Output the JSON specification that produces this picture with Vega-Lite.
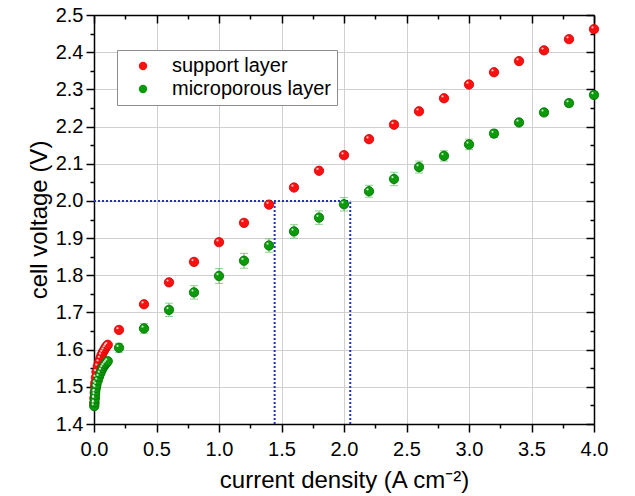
{
  "$schema": "https://vega.github.io/schema/vega-lite/v6.json",
  "width": 500,
  "height": 409,
  "autosize": {"type": "none"},
  "padding": {"left": 94, "top": 15, "right": 41, "bottom": 72},
  "background": "white",
  "config": {
    "font": "Liberation Sans",
    "view": {"stroke": null},
    "axis": {
      "domainColor": "black",
      "domainWidth": 1.5,
      "tickColor": "black",
      "tickWidth": 1.5,
      "labelColor": "black",
      "titleColor": "black",
      "labelFont": "Liberation Sans",
      "titleFont": "Liberation Sans",
      "labelFontSize": 20,
      "titleFontSize": 24,
      "titleFontWeight": "normal",
      "labelFlush": false,
      "labelOverlap": false,
      "gridColor": "#d0d0d0",
      "gridWidth": 1
    }
  },
  "datasets": {
    "cells": [
      {"layer": "support layer", "current": 0.002, "voltage": 1.455, "err": 0.003},
      {"layer": "support layer", "current": 0.004, "voltage": 1.47, "err": 0.003},
      {"layer": "support layer", "current": 0.006, "voltage": 1.485, "err": 0.003},
      {"layer": "support layer", "current": 0.008, "voltage": 1.5, "err": 0.003},
      {"layer": "support layer", "current": 0.01, "voltage": 1.51, "err": 0.003},
      {"layer": "support layer", "current": 0.015, "voltage": 1.525, "err": 0.003},
      {"layer": "support layer", "current": 0.02, "voltage": 1.54, "err": 0.003},
      {"layer": "support layer", "current": 0.03, "voltage": 1.555, "err": 0.003},
      {"layer": "support layer", "current": 0.04, "voltage": 1.566, "err": 0.003},
      {"layer": "support layer", "current": 0.05, "voltage": 1.576, "err": 0.003},
      {"layer": "support layer", "current": 0.06, "voltage": 1.585, "err": 0.003},
      {"layer": "support layer", "current": 0.07, "voltage": 1.592, "err": 0.003},
      {"layer": "support layer", "current": 0.08, "voltage": 1.598, "err": 0.003},
      {"layer": "support layer", "current": 0.09, "voltage": 1.604, "err": 0.003},
      {"layer": "support layer", "current": 0.1, "voltage": 1.609, "err": 0.003},
      {"layer": "support layer", "current": 0.11, "voltage": 1.613, "err": 0.003},
      {"layer": "support layer", "current": 0.2, "voltage": 1.653, "err": 0.004},
      {"layer": "support layer", "current": 0.4, "voltage": 1.722, "err": 0.004},
      {"layer": "support layer", "current": 0.6, "voltage": 1.781, "err": 0.004},
      {"layer": "support layer", "current": 0.8, "voltage": 1.836, "err": 0.004},
      {"layer": "support layer", "current": 1.0, "voltage": 1.889, "err": 0.004},
      {"layer": "support layer", "current": 1.2, "voltage": 1.941, "err": 0.004},
      {"layer": "support layer", "current": 1.4, "voltage": 1.99, "err": 0.004},
      {"layer": "support layer", "current": 1.6, "voltage": 2.036, "err": 0.004},
      {"layer": "support layer", "current": 1.8, "voltage": 2.081, "err": 0.004},
      {"layer": "support layer", "current": 2.0, "voltage": 2.123, "err": 0.004},
      {"layer": "support layer", "current": 2.2, "voltage": 2.166, "err": 0.004},
      {"layer": "support layer", "current": 2.4, "voltage": 2.205, "err": 0.004},
      {"layer": "support layer", "current": 2.6, "voltage": 2.241, "err": 0.004},
      {"layer": "support layer", "current": 2.8, "voltage": 2.276, "err": 0.004},
      {"layer": "support layer", "current": 3.0, "voltage": 2.313, "err": 0.004},
      {"layer": "support layer", "current": 3.2, "voltage": 2.346, "err": 0.004},
      {"layer": "support layer", "current": 3.4, "voltage": 2.376, "err": 0.004},
      {"layer": "support layer", "current": 3.6, "voltage": 2.405, "err": 0.004},
      {"layer": "support layer", "current": 3.8, "voltage": 2.435, "err": 0.004},
      {"layer": "support layer", "current": 4.0, "voltage": 2.462, "err": 0.004},
      {"layer": "microporous layer", "current": 0.002, "voltage": 1.448, "err": 0.004},
      {"layer": "microporous layer", "current": 0.004, "voltage": 1.458, "err": 0.004},
      {"layer": "microporous layer", "current": 0.006, "voltage": 1.468, "err": 0.004},
      {"layer": "microporous layer", "current": 0.008, "voltage": 1.478, "err": 0.004},
      {"layer": "microporous layer", "current": 0.01, "voltage": 1.487, "err": 0.004},
      {"layer": "microporous layer", "current": 0.015, "voltage": 1.497, "err": 0.004},
      {"layer": "microporous layer", "current": 0.02, "voltage": 1.506, "err": 0.004},
      {"layer": "microporous layer", "current": 0.03, "voltage": 1.517, "err": 0.004},
      {"layer": "microporous layer", "current": 0.04, "voltage": 1.527, "err": 0.004},
      {"layer": "microporous layer", "current": 0.05, "voltage": 1.536, "err": 0.004},
      {"layer": "microporous layer", "current": 0.06, "voltage": 1.544, "err": 0.004},
      {"layer": "microporous layer", "current": 0.07, "voltage": 1.551, "err": 0.004},
      {"layer": "microporous layer", "current": 0.08, "voltage": 1.556, "err": 0.004},
      {"layer": "microporous layer", "current": 0.09, "voltage": 1.561, "err": 0.004},
      {"layer": "microporous layer", "current": 0.1, "voltage": 1.565, "err": 0.004},
      {"layer": "microporous layer", "current": 0.11, "voltage": 1.569, "err": 0.004},
      {"layer": "microporous layer", "current": 0.2, "voltage": 1.605, "err": 0.012},
      {"layer": "microporous layer", "current": 0.4, "voltage": 1.657, "err": 0.013},
      {"layer": "microporous layer", "current": 0.6, "voltage": 1.707, "err": 0.018},
      {"layer": "microporous layer", "current": 0.8, "voltage": 1.754, "err": 0.018},
      {"layer": "microporous layer", "current": 1.0, "voltage": 1.798, "err": 0.02},
      {"layer": "microporous layer", "current": 1.2, "voltage": 1.839, "err": 0.02},
      {"layer": "microporous layer", "current": 1.4, "voltage": 1.88, "err": 0.018},
      {"layer": "microporous layer", "current": 1.6, "voltage": 1.918, "err": 0.018},
      {"layer": "microporous layer", "current": 1.8, "voltage": 1.955, "err": 0.018},
      {"layer": "microporous layer", "current": 2.0, "voltage": 1.991, "err": 0.018},
      {"layer": "microporous layer", "current": 2.2, "voltage": 2.026, "err": 0.016},
      {"layer": "microporous layer", "current": 2.4, "voltage": 2.059, "err": 0.018},
      {"layer": "microporous layer", "current": 2.6, "voltage": 2.091, "err": 0.016},
      {"layer": "microporous layer", "current": 2.8, "voltage": 2.121, "err": 0.014},
      {"layer": "microporous layer", "current": 3.0, "voltage": 2.152, "err": 0.014},
      {"layer": "microporous layer", "current": 3.2, "voltage": 2.181, "err": 0.01},
      {"layer": "microporous layer", "current": 3.4, "voltage": 2.211, "err": 0.008},
      {"layer": "microporous layer", "current": 3.6, "voltage": 2.238, "err": 0.008},
      {"layer": "microporous layer", "current": 3.8, "voltage": 2.263, "err": 0.008},
      {"layer": "microporous layer", "current": 4.0, "voltage": 2.285, "err": 0.008}
    ],
    "guides": [
      {"current": 0, "voltage": 2.0, "current2": 2.05, "voltage2": 2.0},
      {"current": 1.445, "voltage": 1.4, "current2": 1.445, "voltage2": 2.0},
      {"current": 2.05, "voltage": 1.4, "current2": 2.05, "voltage2": 2.0}
    ]
  },
  "layer": [
    {
      "data": {"name": "guides"},
      "mark": {"type": "rule", "color": "#2233bb", "strokeWidth": 2, "strokeDash": [2, 2]},
      "encoding": {
        "x": {
          "field": "current", "type": "quantitative",
          "scale": {"domain": [0, 4], "nice": false, "zero": false},
          "axis": {
            "orient": "top", "labels": false, "title": null, "grid": false,
            "values": [0, 0.25, 0.5, 0.75, 1, 1.25, 1.5, 1.75, 2, 2.25, 2.5, 2.75, 3, 3.25, 3.5, 3.75, 4],
            "tickSize": {"condition": {"test": "abs(datum.value*2 - round(datum.value*2)) < 0.001", "value": -8}, "value": -4}
          }
        },
        "x2": {"field": "current2"},
        "y": {
          "field": "voltage", "type": "quantitative",
          "scale": {"domain": [1.4, 2.5], "nice": false, "zero": false},
          "axis": {
            "orient": "right", "labels": false, "title": null, "grid": false,
            "values": [1.4, 1.45, 1.5, 1.55, 1.6, 1.65, 1.7, 1.75, 1.8, 1.85, 1.9, 1.95, 2.0, 2.05, 2.1, 2.15, 2.2, 2.25, 2.3, 2.35, 2.4, 2.45, 2.5],
            "tickSize": {"condition": {"test": "abs(datum.value*10 - round(datum.value*10)) < 0.001", "value": -8}, "value": -4}
          }
        },
        "y2": {"field": "voltage2"}
      }
    },
    {
      "data": {"name": "cells"},
      "transform": [{"filter": "datum.layer === 'microporous layer'"}],
      "mark": {"type": "errorbar", "ticks": {"size": 8, "thickness": 1}, "color": "#5cbf5c", "thickness": 1},
      "encoding": {
        "x": {"field": "current", "type": "quantitative", "scale": {"domain": [0, 4], "nice": false, "zero": false}, "axis": null},
        "y": {"field": "voltage", "type": "quantitative", "scale": {"domain": [1.4, 2.5], "nice": false, "zero": false}, "axis": null},
        "yError": {"field": "err"}
      }
    },
    {
      "data": {"name": "cells"},
      "mark": {"type": "point", "filled": true, "opacity": 1, "size": 88, "strokeWidth": 0.8},
      "encoding": {
        "x": {
          "field": "current", "type": "quantitative",
          "scale": {"domain": [0, 4], "nice": false, "zero": false},
          "axis": {
            "orient": "bottom",
            "title": "current density (A cm⁻²)",
            "values": [0, 0.25, 0.5, 0.75, 1, 1.25, 1.5, 1.75, 2, 2.25, 2.5, 2.75, 3, 3.25, 3.5, 3.75, 4],
            "labelExpr": "abs(datum.value*2 - round(datum.value*2)) < 0.001 ? format(datum.value, '.1f') : ''",
            "tickSize": {"condition": {"test": "abs(datum.value*2 - round(datum.value*2)) < 0.001", "value": 8}, "value": 4},
            "grid": true,
            "gridOpacity": {"condition": {"test": "abs(datum.value*2 - round(datum.value*2)) < 0.001 && datum.value > 0 && datum.value < 4", "value": 1}, "value": 0},
            "labelPadding": 7,
            "titlePadding": 9
          }
        },
        "y": {
          "field": "voltage", "type": "quantitative",
          "scale": {"domain": [1.4, 2.5], "nice": false, "zero": false},
          "axis": {
            "orient": "left",
            "title": "cell voltage (V)",
            "values": [1.4, 1.45, 1.5, 1.55, 1.6, 1.65, 1.7, 1.75, 1.8, 1.85, 1.9, 1.95, 2.0, 2.05, 2.1, 2.15, 2.2, 2.25, 2.3, 2.35, 2.4, 2.45, 2.5],
            "labelExpr": "abs(datum.value*10 - round(datum.value*10)) < 0.001 ? format(datum.value, '.1f') : ''",
            "tickSize": {"condition": {"test": "abs(datum.value*10 - round(datum.value*10)) < 0.001", "value": 8}, "value": 4},
            "grid": true,
            "gridOpacity": {"condition": {"test": "abs(datum.value*10 - round(datum.value*10)) < 0.001 && datum.value > 1.41 && datum.value < 2.49", "value": 1}, "value": 0},
            "labelPadding": 3,
            "titlePadding": 4
          }
        },
        "color": {
          "field": "layer", "type": "nominal",
          "scale": {"domain": ["support layer", "microporous layer"], "range": ["#ff1010", "#0a9a0a"]},
          "legend": {
            "title": null,
            "orient": "none",
            "legendX": 23,
            "legendY": 35,
            "padding": 6,
            "strokeColor": "#8c8c8c",
            "fillColor": "white",
            "labelFont": "Liberation Sans",
            "labelFontSize": 20,
            "labelColor": "black",
            "symbolType": "circle",
            "symbolSize": 70,
            "symbolOffset": 10,
            "labelOffset": 19,
            "rowPadding": 3,
            "symbolStrokeWidth": 0
          }
        },
        "stroke": {
          "field": "layer", "type": "nominal",
          "scale": {"domain": ["support layer", "microporous layer"], "range": ["#d00000", "#007000"]},
          "legend": null
        }
      }
    },
    {
      "data": {"name": "cells"},
      "mark": {"type": "point", "filled": true, "color": "white", "opacity": 0.75, "size": 5, "xOffset": -1.5, "yOffset": -1.8},
      "encoding": {
        "x": {"field": "current", "type": "quantitative", "scale": {"domain": [0, 4], "nice": false, "zero": false}, "axis": null},
        "y": {"field": "voltage", "type": "quantitative", "scale": {"domain": [1.4, 2.5], "nice": false, "zero": false}, "axis": null}
      }
    }
  ],
  "resolve": {"axis": {"x": "independent", "y": "independent"}}
}
